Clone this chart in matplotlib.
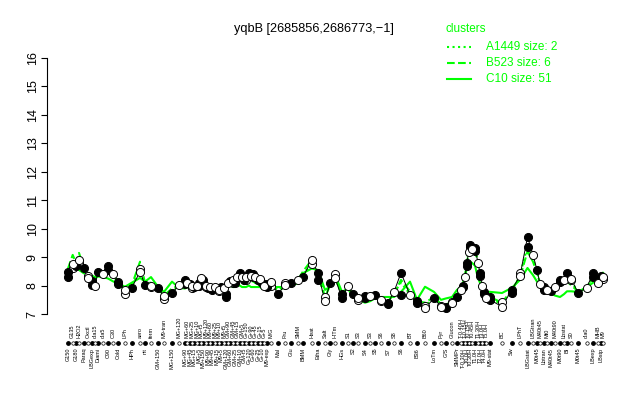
import numpy as np
import matplotlib.pyplot as plt
from matplotlib.lines import Line2D

plt.rcParams['font.family'] = ['Liberation Sans', 'DejaVu Sans']

# conditions, left block
lab_a = ['G150', 'G135', 'G180', 'H2O2', 'Paraq', 'Oxctl', 'LBGexp', 'dia15', 'Diami', 'dia5', 'C90',
         'C30', 'Cold', 'LPh', 'HPh', 'aero', 'nit', 'ferm', 'GM+150', 'M9-tran', 'MG+150', 'MG+120']
pos_a = [68, 72.7, 76, 79, 84, 88, 92, 95, 98, 103, 108, 113, 118, 125, 131.7, 140, 145, 151, 158, 164, 172, 179]
r1_a = [8.49, 8.76, 8.70, 8.90, 8.62, 8.27, 8.02, 7.98, 8.49, 8.41, 8.69, 8.41, 8.14, 7.85, 7.92, 8.49,
        8.02, 8.00, 7.90, 7.63, 7.74, 8.02]
r2_a = [8.30, 8.62, np.nan, 8.78, np.nan, 8.35, 8.15, np.nan, np.nan, np.nan, 8.55, np.nan, 8.05, 7.70,
        np.nan, 8.58, np.nan, 7.95, np.nan, 7.53, np.nan, np.nan]
c10_a = [8.55, 8.65, 8.60, 8.55, 8.43, 8.40, 8.35, 8.30, 8.32, 8.30, 8.25, 8.15, 8.08, 7.96, 8.10, 8.27,
         8.14, 8.30, 7.96, 7.78, 8.14, 7.92]
b523_a = [8.60, 9.08, 8.80, 9.15, 8.60, 8.45, 8.30, 8.20, 8.40, 8.40, 8.50, 8.35, 8.15, 7.90, 8.00, 8.84,
          8.10, 8.10, 7.90, 7.65, 7.90, 8.00]
a1449_a = [8.50, 8.80, 8.70, 8.90, 8.55, 8.35, 8.20, 8.10, 8.45, 8.40, 8.60, 8.40, 8.10, 7.80, 7.95, 8.60,
           8.05, 8.00, 7.85, 7.60, 7.80, 8.00]

# dense glucose / malate time series
lab_b = ['MG+90', 'MG+60', 'MG+45', 'MG+25', 'MG+15', 'MG+10', 'MG+5', 'MG-t5', 'M9+150', 'M9+120',
         'M9+90', 'M9+60', 'M9+45', 'M9+25', 'M9+15', 'M9+10', 'M9+5', 'M9-t5', 'GM+120', 'GM+90',
         'GM+60', 'GM+45', 'GM+25', 'GM+15', 'GM+10', 'GM+5', 'GM-t5', 'G+150', 'G+120', 'G+90',
         'G+60', 'G+45', 'G+25', 'G+15', 'G+10', 'G+5', 'M9-exp']
pos_b = [185, 187, 190, 192, 194, 197, 199, 201, 203, 206, 208, 210, 212, 215, 217, 219, 221, 224, 226,
         228, 230, 233, 235, 237, 240, 242, 244, 246, 249, 251, 253, 255, 258, 260, 262, 264, 267]
r1_b = [8.20, 8.10, 8.05, 8.00, 7.95, 8.00, 8.10, 8.27, 8.20, 8.00, 7.90, 7.95, 7.90, 7.95, 7.90, 7.85,
        7.95, 7.90, 7.60, 8.10, 8.15, 8.20, 8.10, 8.30, 8.44, 8.30, 8.20, 8.30, 8.44, 8.35, 8.40, 8.30,
        8.20, 8.25, 8.10, 8.00, 7.95]
r2_b = [8.05, np.nan, np.nan, 7.90, np.nan, np.nan, 8.00, np.nan, np.nan, 7.95, np.nan, np.nan, 7.85,
        np.nan, np.nan, 7.80, np.nan, np.nan, 7.70, np.nan, np.nan, 8.10, np.nan, np.nan, 8.30, np.nan,
        np.nan, 8.20, np.nan, np.nan, 8.30, np.nan, np.nan, 8.15, np.nan, np.nan, 8.05]
c10_b = [7.90, 7.95, 7.90, 7.85, 7.90, 7.95, 7.90, 7.95, 8.00, 7.90, 7.85, 7.90, 7.85, 7.90, 7.85, 7.80,
         7.90, 7.85, 7.85, 7.95, 8.00, 7.95, 7.95, 8.00, 8.00, 7.95, 7.95, 7.95, 8.00, 7.95, 7.95, 7.95,
         7.95, 7.95, 7.90, 7.90, 7.95]
b523_b = [8.05, 8.00, 7.95, 7.95, 7.90, 8.00, 8.00, 8.10, 8.05, 7.95, 7.90, 7.90, 7.90, 7.90, 7.85, 7.85,
          7.90, 7.85, 7.75, 8.00, 8.05, 8.05, 8.00, 8.10, 8.20, 8.10, 8.05, 8.10, 8.20, 8.15, 8.15, 8.10,
          8.05, 8.10, 8.00, 7.95, 7.95]
a1449_b = [8.10, 8.05, 8.00, 7.95, 7.95, 8.00, 8.05, 8.15, 8.10, 7.95, 7.90, 7.90, 7.90, 7.90, 7.90, 7.85,
           7.90, 7.90, 7.70, 8.05, 8.10, 8.10, 8.05, 8.20, 8.30, 8.20, 8.10, 8.20, 8.30, 8.25, 8.25, 8.20,
           8.10, 8.15, 8.05, 8.00, 7.95]

# middle block (carbon sources, stresses, swarming etc)
lab_c = ['M/G', 'Mal', 'Fru', 'Glu', 'SMM', 'BMM', 'Heat', 'Etha', 'Salt', 'Gly', 'HiTm', 'HGs', 'S1',
         'S2', 'S3', 'S4', 'S3', 'S5', 'S6', 'S7', 'S8', 'S6', 'BT', 'B36', 'B60', 'LoTm', 'Pyr', 'G/S',
         'Glucon', 'SMMPr']
pos_c = [271, 278, 285, 291, 298, 303, 311.7, 318, 325, 330, 335, 342, 348, 353, 358, 365, 370, 375, 381,
         388, 394, 401, 410, 417, 425, 434, 441, 446, 452, 457]
r1_c = [8.14, 7.70, 8.02, 8.10, 8.20, 8.30, 8.90, 8.44, 7.45, 8.10, 8.27, 7.56, 8.00, 7.70, 7.55, 7.55,
        7.62, 7.68, 7.50, 7.40, 7.78, 8.45, 7.67, 7.38, 7.20, 7.56, 7.26, 7.26, 7.40, 7.60]
r2_c = [8.00, np.nan, 8.10, np.nan, np.nan, np.nan, 8.75, 8.20, 7.60, np.nan, 8.40, 7.70, np.nan, np.nan,
        7.50, 7.65, np.nan, np.nan, 7.45, 7.35, np.nan, 7.67, np.nan, 7.45, 7.30, np.nan, 7.30, 7.20,
        7.43, np.nan]
c10_c = [7.95, 7.95, 7.95, 8.00, 8.08, 8.44, 8.60, 8.55, 7.85, 7.96, 8.37, 7.78, 7.90, 7.60, 7.50, 7.40,
         7.45, 7.55, 7.60, 7.60, 7.60, 7.78, 8.14, 7.50, 7.96, 7.78, 7.50, 7.55, 7.60, 7.85]
b523_c = [8.00, 7.85, 8.00, 8.05, 8.20, 8.50, 8.90, 8.45, 7.60, 8.00, 8.30, 7.70, 7.90, 7.65, 7.55, 7.50,
          7.55, 7.60, 7.50, 7.45, 7.70, 8.20, 7.80, 7.45, 7.40, 7.60, 7.35, 7.30, 7.50, 7.70]
a1449_c = [8.05, 7.75, 8.00, 8.05, 8.15, 8.35, 8.80, 8.40, 7.55, 8.05, 8.30, 7.65, 7.95, 7.70, 7.55, 7.55,
           7.60, 7.65, 7.50, 7.40, 7.75, 8.10, 7.70, 7.40, 7.30, 7.55, 7.30, 7.25, 7.45, 7.65]

# dense sporulation time series
lab_d = ['T-0.40H', 'T-0.30H', 'T-0.15H', 'T0.0H', 'T0.15H', 'T0.30H', 'T0.45H', 'T1.0H', 'T1.30H',
         'T2.0H', 'T3.0H', 'T4.0H', 'T5.0H']
pos_d = [461, 463, 465, 467, 468.5, 470, 472, 475, 478, 480, 482, 484, 486]
r1_d = [7.85, 8.00, 8.30, 8.80, 9.19, 9.43, 9.30, 9.32, 8.80, 8.45, 8.00, 7.78, 7.55]
r2_d = [np.nan, 7.95, np.nan, 8.70, np.nan, 9.35, np.nan, 9.20, np.nan, 8.35, np.nan, 7.70, np.nan]
c10_d = [7.96, 8.10, 8.30, 8.66, 8.75, 8.84, 8.80, 8.70, 8.27, 8.10, 7.96, 7.85, 7.78]
b523_d = [7.90, 8.05, 8.35, 8.90, 9.30, 9.50, 9.40, 9.30, 8.75, 8.40, 8.00, 7.80, 7.60]
a1449_d = [7.85, 8.00, 8.30, 8.80, 9.20, 9.40, 9.30, 9.30, 8.80, 8.45, 8.00, 7.80, 7.55]

# right block
lab_e = ['M9-stat', 'BC', 'Sw', 'LPhT', 'LBGstat', 'LBGtran', 'M0t45', 'M40t45', 'Lbtran', 'Mt0',
         'M40t45', 'M40t90', 'M0t90', 'Lbstat', 'BI', 'S0', 'M0t45', 'dia0', 'LBexp', 'MHB', 'LBstp', 'M9']
pos_e = [490, 502, 511.7, 520, 527.5, 533, 537, 540, 544, 547, 551, 555, 560, 564, 567, 571, 578, 586.7,
         593, 598, 600.5, 603]
r1_e = [7.50, 7.26, 7.85, 8.34, 9.71, 9.08, 8.55, 8.06, 7.95, 7.85, 7.82, 7.95, 8.14, 8.20, 8.45, 8.25,
        7.75, 7.92, 8.44, 8.10, 8.35, 8.30]
r2_e = [7.60, 7.43, 7.75, 8.45, 9.37, np.nan, np.nan, np.nan, 7.85, np.nan, np.nan, np.nan, 8.20, np.nan,
        np.nan, 8.20, np.nan, np.nan, 8.30, np.nan, np.nan, 8.25]
c10_e = [7.78, 7.74, 7.92, 8.20, 8.62, 8.37, 8.14, 8.00, 7.96, 7.85, 7.74, 7.65, 7.60, 7.70, 7.80, 7.80,
         7.78, 7.95, 8.10, 8.26, 8.35, 8.45]
b523_e = [7.60, 7.40, 7.85, 8.30, 9.20, 8.84, 8.45, 8.10, 7.95, 7.90, 7.85, 7.90, 8.00, 8.05, 8.15, 8.02,
          7.80, 7.90, 8.30, 8.15, 8.30, 8.35]
a1449_e = [7.55, 7.35, 7.80, 8.35, 9.40, 8.95, 8.50, 8.05, 7.90, 7.85, 7.80, 7.90, 8.10, 8.15, 8.35, 8.20,
           7.75, 7.90, 8.40, 8.10, 8.30, 8.30]

labels = lab_a + lab_b + lab_c + lab_d + lab_e
x = np.array(pos_a + pos_b + pos_c + pos_d + pos_e, dtype=float)
rep1 = np.array(r1_a + r1_b + r1_c + r1_d + r1_e)
rep2 = np.array(r2_a + r2_b + r2_c + r2_d + r2_e)
c10 = np.array(c10_a + c10_b + c10_c + c10_d + c10_e)
b523 = np.array(b523_a + b523_b + b523_c + b523_d + b523_e)
a1449 = np.array(a1449_a + a1449_b + a1449_c + a1449_d + a1449_e)

green = '#00ff00'
fig = plt.figure(figsize=(6.4, 4), dpi=100)
ax = fig.add_axes([47 / 640, 1 - 324.3 / 400, (625 - 47) / 640, 276.5 / 400])
ax.set_xlim(47, 625)
ax.set_ylim(6.64, 16.36)

ax.plot(x, a1449, color=green, ls=':', lw=1.5)
ax.plot(x, b523, color=green, ls='--', lw=1.5)
ax.plot(x, c10, color=green, ls='-', lw=1.5)
ax.plot(x, rep1, color='black', lw=0.7)

filled = np.arange(len(x)) % 2 == 0
for reps in (rep2, rep1):
    ax.scatter(x[filled], reps[filled], s=34, c='black', edgecolors='black', linewidths=0.7, zorder=3)
    ax.scatter(x[~filled], reps[~filled], s=34, c='white', edgecolors='black', linewidths=0.7, zorder=3)

# row of markers and condition names under the plot
tr = ax.get_xaxis_transform()
ax.scatter(x[filled], np.full(filled.sum(), -0.068), s=6, c='black', transform=tr, clip_on=False)
ax.scatter(x[~filled], np.full((~filled).sum(), -0.068), s=6, c='white', edgecolors='black',
           linewidths=0.5, transform=tr, clip_on=False)
for i, (xi, name) in enumerate(zip(x, labels)):
    if i % 2 == 1:
        ax.text(xi, -0.05, name, transform=tr, rotation=90, ha='center', va='bottom', fontsize=4)
    else:
        ax.text(xi, -0.085, name, transform=tr, rotation=90, ha='center', va='top', fontsize=4)

for s in ['top', 'right', 'bottom']:
    ax.spines[s].set_visible(False)
ax.spines['left'].set_bounds(7, 16)
ax.set_xticks([])
ax.set_yticks(range(7, 17))
ax.set_yticklabels([str(v) for v in range(7, 17)], rotation=90, va='center', fontsize=9)
ax.tick_params(axis='y', length=4, pad=2)

fig.text(314 / 640, 1 - 29 / 400, 'yqbB [2685856,2686773,\u22121]', ha='center', va='center', fontsize=9.2)

# legend
fig.text(445 / 640, 1 - 29 / 400, 'clusters', color=green, fontsize=8.5, va='center')
names = ['A1449 size: 2', 'B523 size: 6', 'C10 size: 51']
styles = [':', '--', '-']
for k, (nm, st) in enumerate(zip(names, styles)):
    yy = 1 - (47 + 16 * k) / 400
    fig.add_artist(Line2D([447 / 640, 471 / 640], [yy, yy], color=green, ls=st, lw=1.5))
    fig.text(486 / 640, yy, nm, color=green, fontsize=8.5, va='center')

fig.savefig('out.png', dpi=100)
